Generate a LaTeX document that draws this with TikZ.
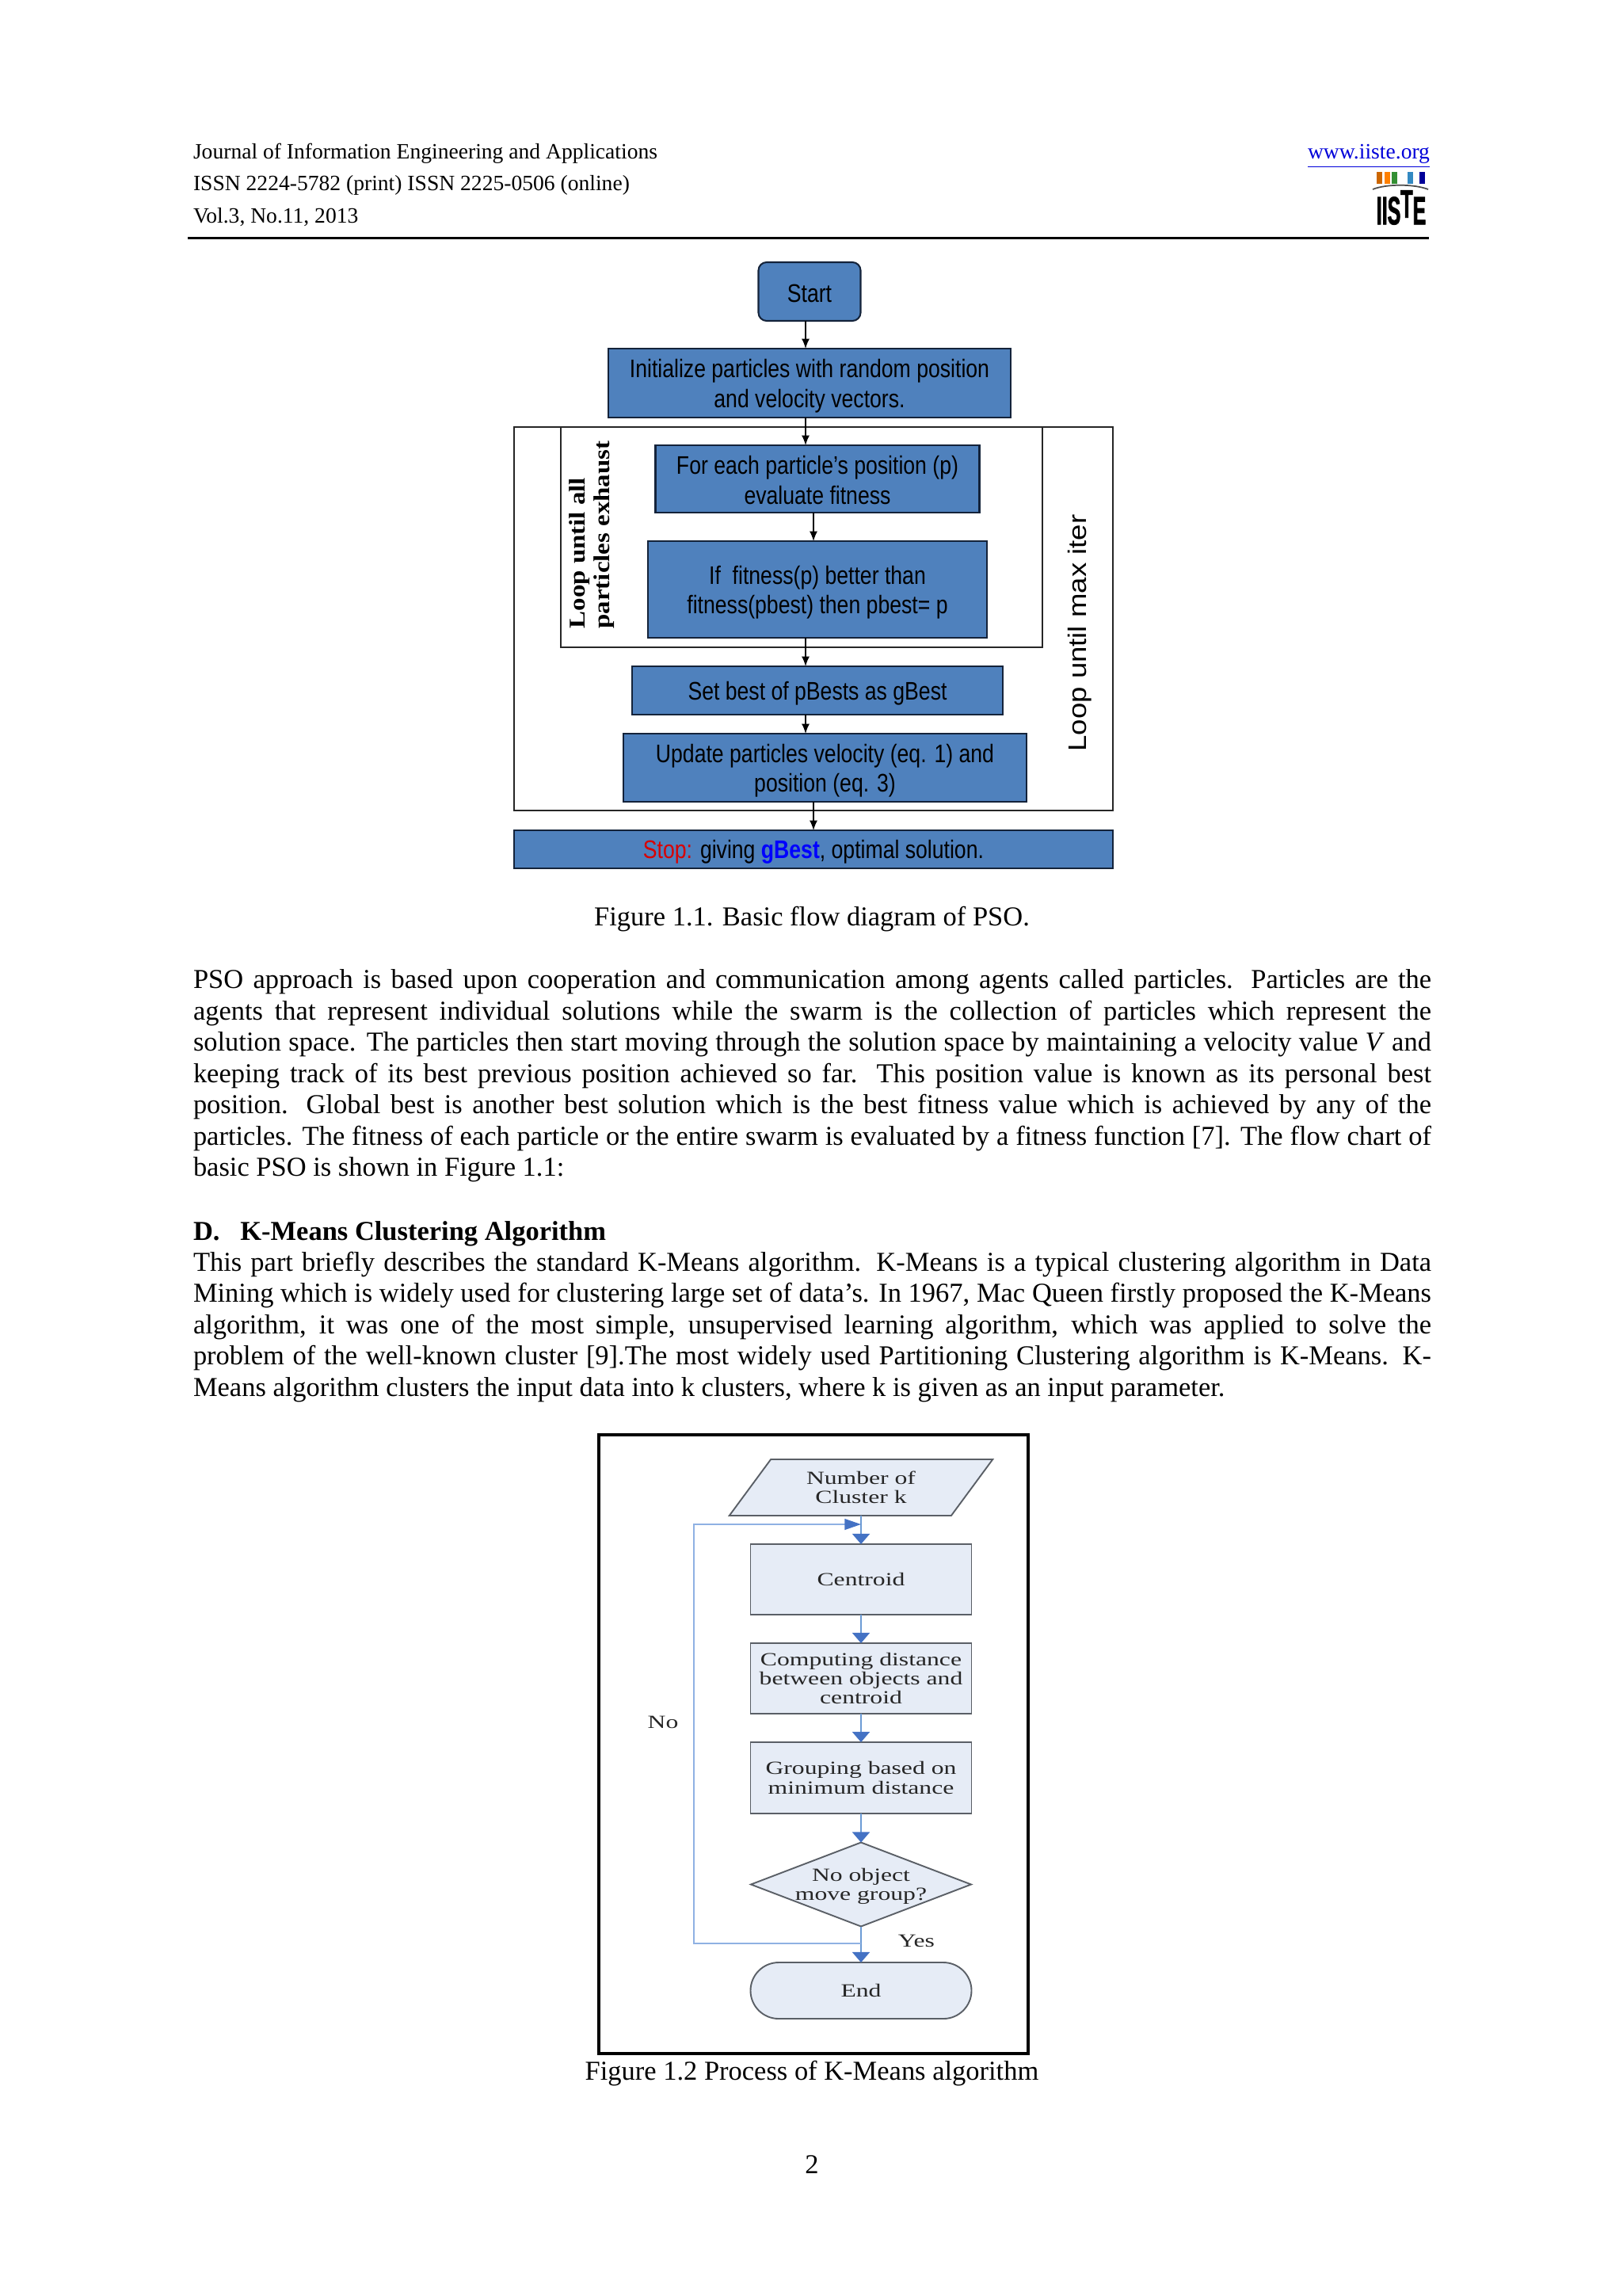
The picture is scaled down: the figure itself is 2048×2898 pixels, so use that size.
\documentclass[tikz,border=0pt]{standalone}
\usepackage{fontspec}
\usepackage{xcolor}
\setmainfont{Liberation Serif}
\newfontfamily\narrowarial[FakeStretch=0.83]{Liberation Sans}
\newfontfamily\widearial[FakeStretch=1.14]{Liberation Sans}
\newfontfamily\wideserif[FakeStretch=1.35]{Liberation Serif}
\newfontfamily\wideboldserif[FakeStretch=1.15]{Liberation Serif Bold}
\newfontfamily\logofont[FakeStretch=0.5,FakeBold=1.5]{Liberation Sans Bold}
\usetikzlibrary{arrows.meta,shapes.geometric}
\newdimen\px
\px=0.29pt
\definecolor{psoblue}{HTML}{4F81BD}
\definecolor{psoedge}{HTML}{14233A}
\definecolor{kmfill}{HTML}{E6ECF6}
\definecolor{kmedge}{HTML}{5A5F66}
\definecolor{kmarrow}{HTML}{4472C4}
\definecolor{kmstem}{HTML}{6C9BD5}
\definecolor{kmloop}{HTML}{8FB1E3}
\tikzset{
  psobox/.style={draw=psoedge,fill=psoblue,line width=0.6pt,inner sep=0,outer sep=0,align=center,
    text height=8.7pt,font=\narrowarial\fontsize{9.3}{11}\selectfont,text=black},
  twolines/.style={text height=19.9pt},
  loopbox/.style={draw=black!85,line width=0.45pt,inner sep=0,outer sep=0},
  psoarrow/.style={draw=black,line width=0.45pt,-{Latex[length=3.6pt,width=2.9pt]}},
  kmbox/.style={draw=kmedge,fill=kmfill,line width=0.55pt,inner sep=0,outer sep=0,align=center,
    minimum width=279\px,text=black!85,font=\wideserif\fontsize{6.8}{7.05}\selectfont},
  kmarrow/.style={draw=kmstem,line width=0.5pt,-{Triangle[length=3.8pt,width=6.4pt,color=kmarrow]}},
  bodytext/.style={inner sep=0,outer sep=0,anchor=north west,text width=1563\px,align=justify,
    font=\fontsize{10}{11.45}\selectfont},
  headline/.style={inner sep=0,outer sep=0,anchor=base west,font=\fontsize{8}{9}\selectfont},
  caption/.style={inner sep=0,outer sep=0,anchor=base,font=\fontsize{10}{11.45}\selectfont},
}
\begin{document}
\begin{tikzpicture}[x=1\px,y=-1\px]
  \useasboundingbox (0,0) rectangle (2048,2898);

  % page header
  \node[headline] (journal) at (244,200) {Journal of Information Engineering and Applications};
  \node[headline] (issn) at (244,241) {ISSN 2224-5782 (print) ISSN 2225-0506 (online)};
  \node[headline] (volume) at (244,281) {Vol.3, No.11, 2013};
  \node[headline,anchor=base east,text=blue!85!black] (site) at (1805,200) {\underline{www.iiste.org}};
  \draw[black,line width=0.7pt] (237,300.5) -- (1804,300.5);

  % logo
  \fill[orange!80!black] (1738,217) rectangle (1745,232);
  \fill[orange] (1748,217) rectangle (1755,232);
  \fill[green!45!black!80] (1757,217) rectangle (1764,232);
  \fill[blue!40!cyan!70!black!80] (1777,217) rectangle (1784,232);
  \fill[blue!60!black] (1792,217) rectangle (1799,232);
  \draw[black!70,line width=0.5pt] (1733,239) .. controls (1750,232) and (1785,232) .. (1803,239);
  \node[inner sep=0,font=\logofont\fontsize{14.5}{14.5}\selectfont] (logo) at (1769,262) {IIS\raisebox{2.5pt}{T}E};

  % loop frames
  \node[loopbox,minimum width=756\px,minimum height=484\px] (outerloop) at (1027,781) {};
  \node[loopbox,minimum width=608\px,minimum height=278\px] (innerloop) at (1012,678) {};

  % flow boxes
  \node[psobox,text height=8pt,rounded corners=3pt,minimum width=129\px,minimum height=74\px] (start) at (1022,368) {Start};
  \node[psobox,twolines,minimum width=508\px,minimum height=87\px] (init) at (1022,483.5) {Initialize particles with random position\\and velocity vectors.};
  \node[psobox,text height=18.6pt,minimum width=409\px,minimum height=85\px] (fitness) at (1032,604.5) {For each particle’s position (p)\\evaluate fitness};
  \node[psobox,twolines,minimum width=428\px,minimum height=122\px] (compare) at (1032,744) {If\ \ fitness(p) better than\\fitness(pbest) then pbest= p};
  \node[psobox,minimum width=468\px,minimum height=61\px] (gbest) at (1032,871.5) {Set best of pBests as gBest};
  \node[psobox,twolines,minimum width=509\px,minimum height=86\px] (update) at (1041.5,969) {Update particles velocity (eq. 1) and\\position (eq. 3)};
  \node[psobox,minimum width=756\px,minimum height=48\px] (stop) at (1027,1072) {\textcolor{red!85!black}{Stop:} giving \textcolor{blue}{\textbf{gBest}}, optimal solution.};

  \node[rotate=90,inner sep=0,align=left,font=\wideboldserif\fontsize{8.3}{9}\selectfont] (looplabel) at (747,675) {Loop until all\\particles exhaust};
  \node[rotate=90,inner sep=0,font=\widearial\fontsize{9.3}{9.3}\selectfont] (iterlabel) at (1363,799) {Loop until max iter};

  \coordinate (spineA) at (1017,0);
  \coordinate (spineB) at (1027,0);
  \draw[psoarrow] (start.south -| spineA) -- (init.north -| spineA);
  \draw[psoarrow] (init.south -| spineA) -- (fitness.north -| spineA);
  \draw[psoarrow] (fitness.south -| spineB) -- (compare.north -| spineB);
  \draw[psoarrow] (compare.south -| spineA) -- (gbest.north -| spineA);
  \draw[psoarrow] (gbest.south -| spineA) -- (update.north -| spineA);
  \draw[psoarrow] (update.south -| spineB) -- (stop.north -| spineB);

  \node[caption] (captionA) at (1025,1168) {Figure 1.1. Basic flow diagram of PSO.};

  % body text
  \node[bodytext] (paraA) at (244,1224) {PSO approach is based upon cooperation and communication among agents called particles. Particles are the\linebreak
  agents that represent individual solutions while the swarm is the collection of particles which represent the\linebreak
  solution space. The particles then start moving through the solution space by maintaining a velocity value \textit{V} and\linebreak
  keeping track of its best previous position achieved so far. This position value is known as its personal best\linebreak
  position. Global best is another best solution which is the best fitness value which is achieved by any of the\linebreak
  particles. The fitness of each particle or the entire swarm is evaluated by a fitness function [7]. The flow chart of\linebreak
  basic PSO is shown in Figure 1.1:};
  \node[caption,anchor=base west,font=\bfseries\fontsize{10}{11.45}\selectfont] (heading) at (244,1565) {D.\ \ \ K-Means Clustering Algorithm};
  \node[bodytext] (paraB) at (244,1580) {This part briefly describes the standard K-Means algorithm. K-Means is a typical clustering algorithm in Data\linebreak
  Mining which is widely used for clustering large set of data’s. In 1967, Mac Queen firstly proposed the K-Means\linebreak
  algorithm, it was one of the most simple, unsupervised learning algorithm, which was applied to solve the\linebreak
  problem of the well-known cluster [9].The most widely used Partitioning Clustering algorithm is K-Means. K-\linebreak
  Means algorithm clusters the input data into k clusters, where k is given as an input parameter.};

  % k-means figure
  \node[draw=black,line width=0.9pt,inner sep=0,outer sep=0,minimum width=542\px,minimum height=781\px] (frame) at (1027,2201.5) {};
  \node[kmbox,trapezium,trapezium left angle=52.3,trapezium right angle=127.7,trapezium stretches=true,
    minimum width=333\px,minimum height=71\px] (clusters) at (1087,1877.5) {Number of\\Cluster k};
  \node[kmbox,minimum height=89\px] (centroid) at (1087,1993.5) {Centroid};
  \node[kmbox,minimum height=89\px] (distance) at (1087,2118.5) {Computing distance\\between objects and\\centroid};
  \node[kmbox,minimum height=90\px] (grouping) at (1087,2244) {Grouping based on\\minimum distance};
  \node[kmbox,diamond,aspect=2.63,minimum width=278\px,minimum height=106\px] (moved) at (1087,2378.5) {};
  \node[inner sep=0,align=center,text=black!85,font=\wideserif\fontsize{6.8}{7.05}\selectfont] (movedtext) at (1087,2381) {No object\\move group?};
  \node[kmbox,rounded corners=10.3pt,minimum height=71\px] (finish) at (1087,2512.5) {End};
  \node[inner sep=0,text=black!85,font=\wideserif\fontsize{6.8}{7}\selectfont] (nolabel) at (837,2174) {No};
  \node[inner sep=0,text=black!85,font=\wideserif\fontsize{6.8}{7}\selectfont] (yeslabel) at (1157,2450) {Yes};

  \coordinate (loopLow) at (876,2453);
  \coordinate (loopHigh) at (876,1924);
  \draw[kmarrow] (clusters.south) -- (centroid.north);
  \draw[kmarrow] (centroid.south) -- (distance.north);
  \draw[kmarrow] (distance.south) -- (grouping.north);
  \draw[kmarrow] (grouping.south) -- (moved.north);
  \draw[kmarrow] (moved.south) -- (finish.north);
  \draw[draw=kmloop,line width=0.5pt,-{Triangle[length=6pt,width=4pt,color=kmarrow]}] (moved.south |- loopLow) -- (loopLow) -- (loopHigh) -- (clusters.south |- loopHigh);

  \node[caption] (captionB) at (1025,2625) {Figure 1.2 Process of K-Means algorithm};
  \node[caption] (pagenum) at (1025,2743) {2};
\end{tikzpicture}
\end{document}
